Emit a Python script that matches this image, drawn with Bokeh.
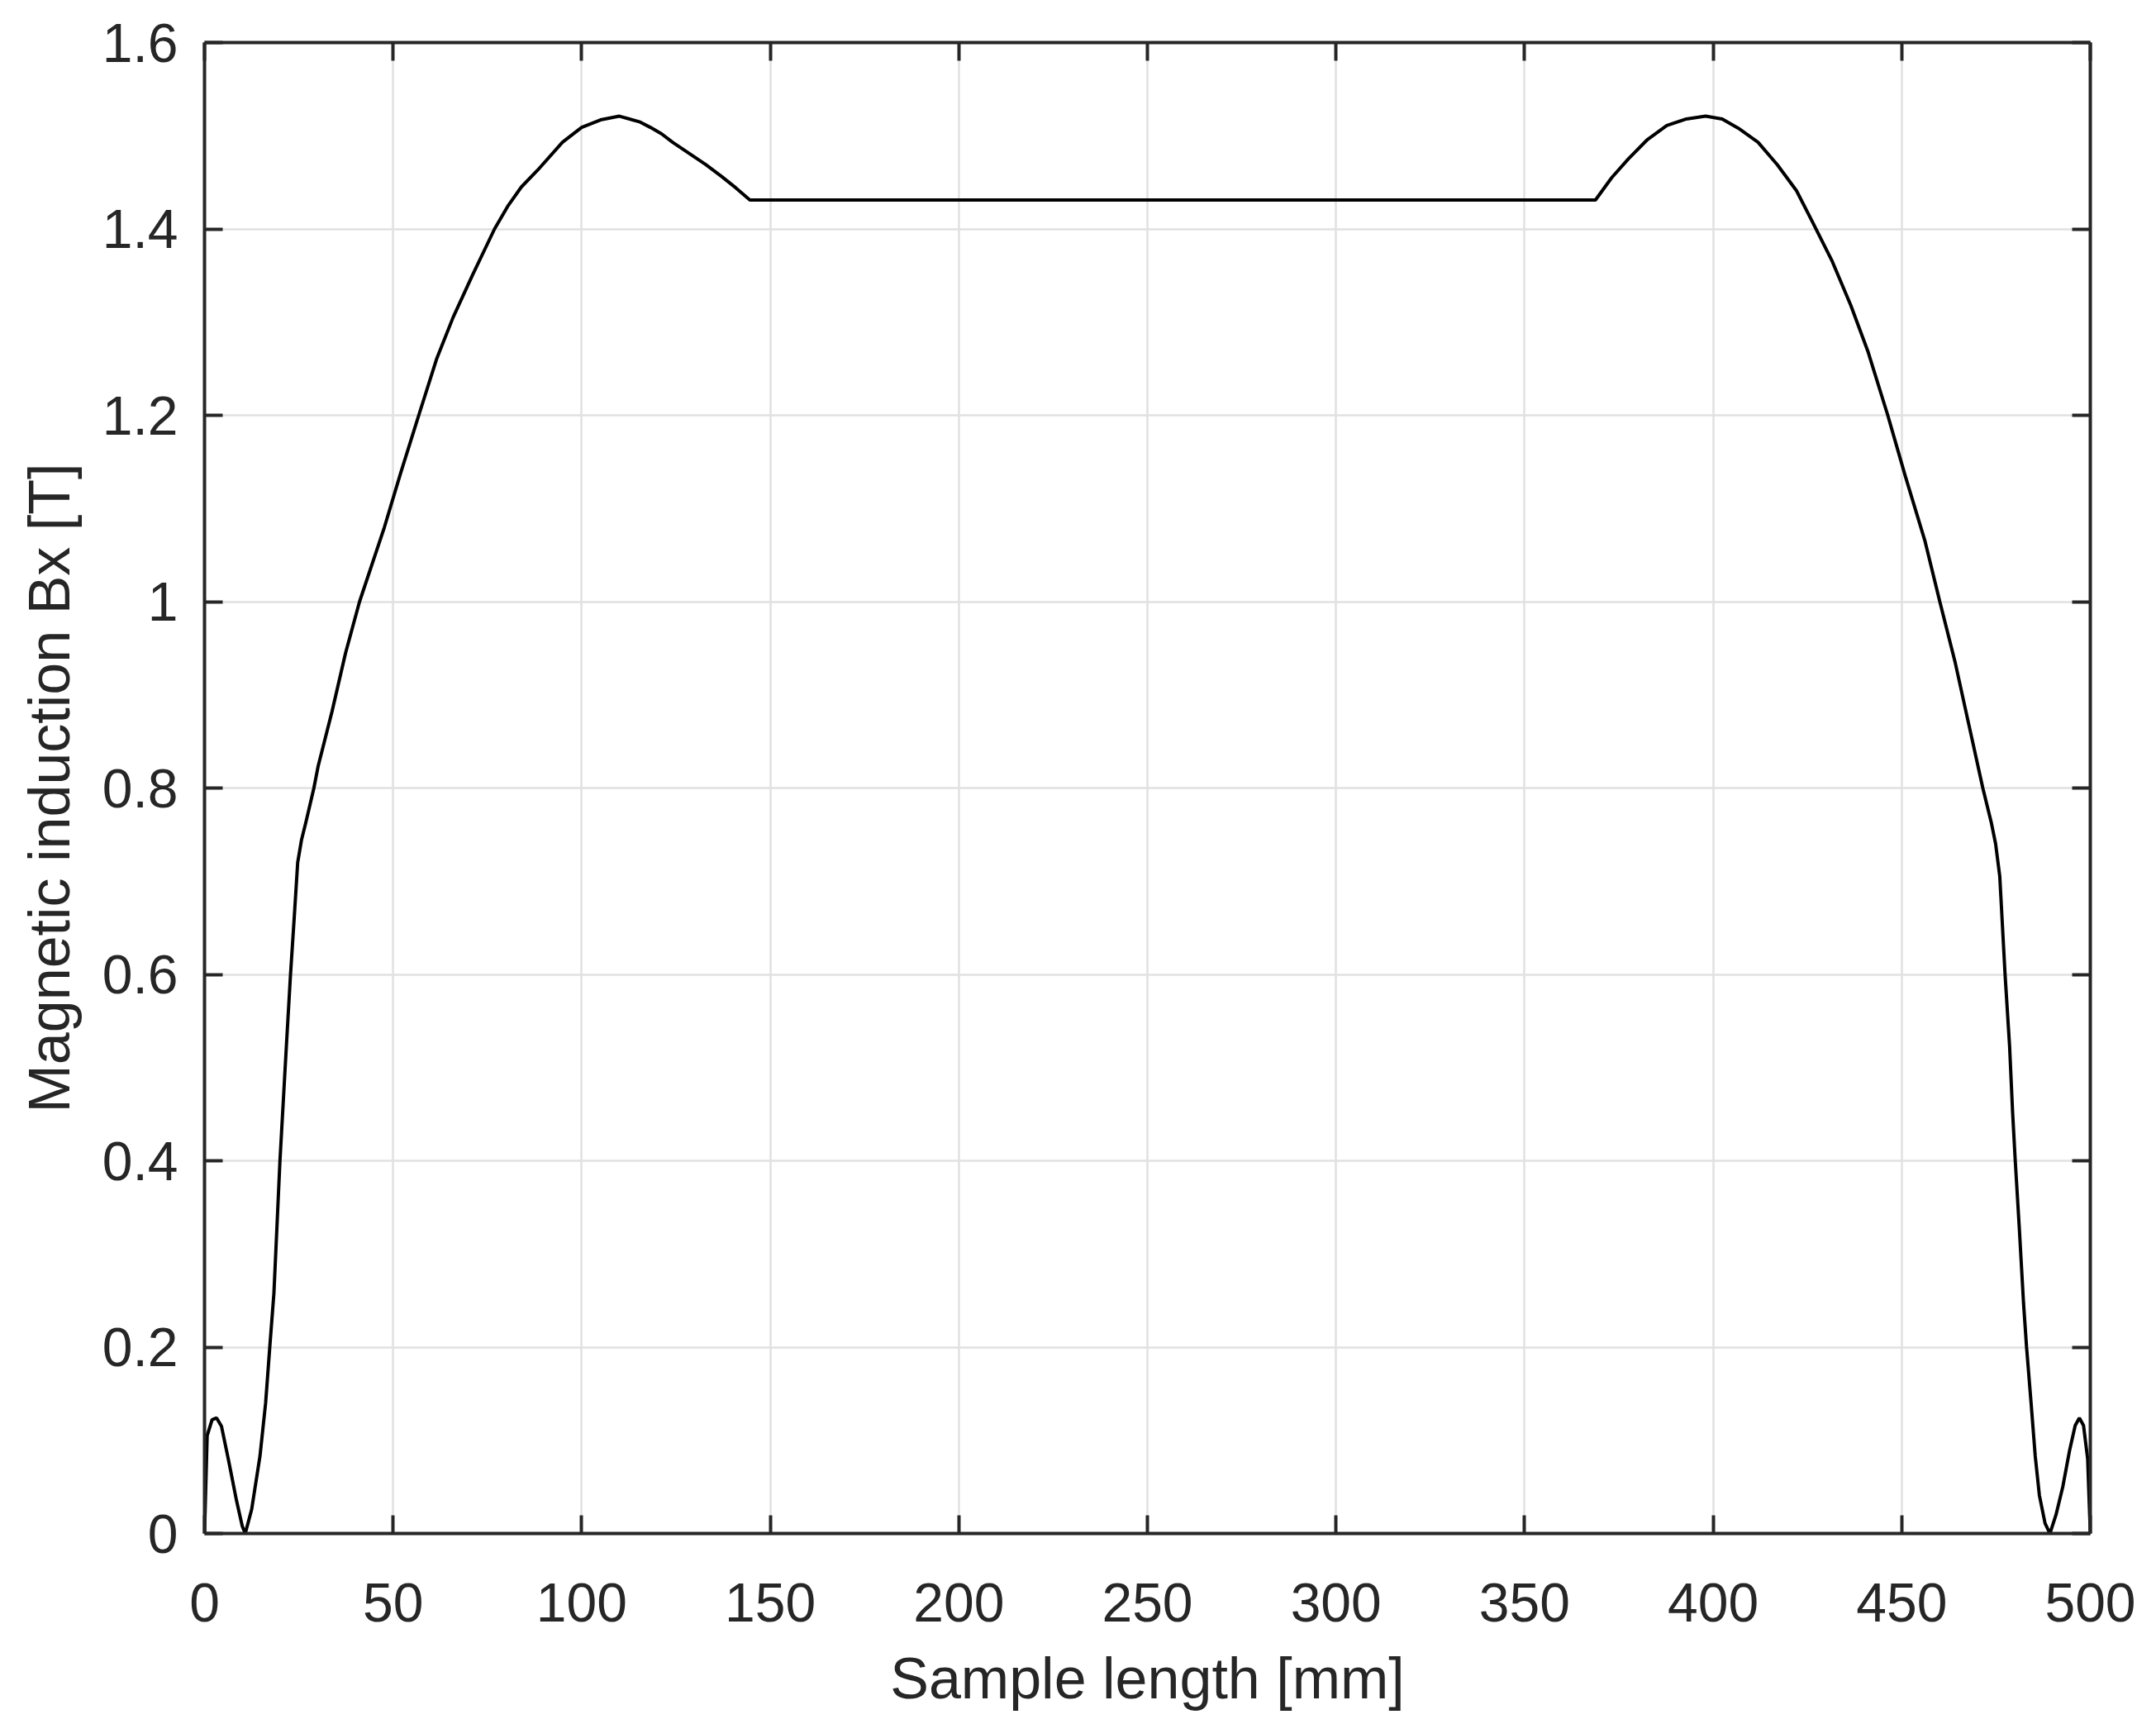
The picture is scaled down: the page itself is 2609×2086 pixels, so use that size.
from bokeh.plotting import figure
from bokeh.models import Range1d, LinearAxis, FixedTicker, ColumnDataSource
from bokeh.embed import file_html
from bokeh.resources import INLINE

# Sample length [mm]
length_mm = [0, 0.7, 2.0, 3.2, 4.5, 6.3, 8.5, 10.0, 10.8, 12.5, 14.7, 16.2, 17.3, 18.4,
             20.0, 21.7, 22.8, 23.8, 24.7, 25.7, 26.8, 29.0, 30.1, 33.8, 37.4, 41.1,
             47.7, 52.0, 56.8, 61.5, 65.9, 71.0, 76.9, 80.5, 84.0, 88.3, 94.9, 100.0,
             105.0, 110.0, 115.3, 118.2, 121.2, 124.1, 128.5, 132.9, 137.2, 140.9, 144.6,
             368.8, 373.1, 377.5, 382.6, 387.7, 392.9, 398.0, 402.4, 406.7, 411.9, 417.0,
             422.1, 426.4, 431.6, 436.5, 441.0, 446.3, 451.0, 456.1, 460.1, 464.1, 467.8,
             471.5, 473.8, 474.9, 476.0, 477.4, 478.6, 479.4, 480.1, 481.2, 482.3, 483.1,
             484.3, 485.4, 486.5, 488.0, 489.3, 490.9, 492.7, 494.5, 496.0, 497.1, 498.2,
             499.3, 500.0]

# Magnetic induction Bx [T]
bx_tesla = [0.0, 0.105, 0.122, 0.124, 0.115, 0.080, 0.035, 0.008, 0.0, 0.026, 0.083, 0.140,
            0.200, 0.258, 0.400, 0.523, 0.600, 0.662, 0.720, 0.744, 0.762, 0.800, 0.823,
            0.882, 0.945, 1.000, 1.080, 1.138, 1.200, 1.260, 1.305, 1.350, 1.400, 1.425,
            1.445, 1.463, 1.493, 1.509, 1.517, 1.521, 1.515, 1.509, 1.502, 1.493, 1.481,
            1.469, 1.456, 1.444, 1.431,
            1.431, 1.455, 1.475, 1.496, 1.511, 1.518, 1.521, 1.518, 1.508, 1.493, 1.469,
            1.441, 1.407, 1.365, 1.318, 1.269, 1.200, 1.134, 1.066, 1.000, 0.936, 0.868,
            0.800, 0.762, 0.740, 0.705, 0.600, 0.523, 0.452, 0.400, 0.326, 0.247, 0.200,
            0.140, 0.083, 0.041, 0.011, 0.0, 0.020, 0.050, 0.089, 0.116, 0.124, 0.116,
            0.080, 0.0]

x_ticks = [0, 50, 100, 150, 200, 250, 300, 350, 400, 450, 500]
x_tick_labels = ["0", "50", "100", "150", "200", "250", "300", "350", "400", "450", "500"]
y_ticks = [0, 0.2, 0.4, 0.6, 0.8, 1.0, 1.2, 1.4, 1.6]
y_tick_labels = ["0", "0.2", "0.4", "0.6", "0.8", "1", "1.2", "1.4", "1.6"]

x_title = "Sample length [mm]"
y_title = "Magnetic induction Bx [T]"

AX = "#262626"
FONT = "Liberation Sans"

src = ColumnDataSource(data=dict(x=length_mm, y=bx_tesla))

p = figure(frame_width=2282, frame_height=1804,
           x_range=Range1d(0, 500), y_range=Range1d(0, 1.6),
           output_backend="svg", toolbar_location=None,
           min_border_left=247, min_border_right=71,
           min_border_top=51, min_border_bottom=223,
           background_fill_color="white", border_fill_color="white")
p.outline_line_color = None

p.line("x", "y", source=src, line_color="black", line_width=4)

p.xaxis.ticker = FixedTicker(ticks=x_ticks)
p.yaxis.ticker = FixedTicker(ticks=y_ticks)
p.xaxis.major_label_overrides = dict(zip(x_ticks, x_tick_labels))
p.yaxis.major_label_overrides = dict(zip(y_ticks, y_tick_labels))
p.xgrid.ticker = FixedTicker(ticks=x_ticks)
p.ygrid.ticker = FixedTicker(ticks=y_ticks)
p.grid.grid_line_color = "#e1e1e1"
p.grid.grid_line_width = 2.5

p.xaxis.axis_label = x_title
p.yaxis.axis_label = y_title


def style(ax, labels=True):
    ax.axis_line_color = AX
    ax.axis_line_width = 4
    ax.major_tick_line_color = AX
    ax.major_tick_line_width = 4
    ax.major_tick_in = 22
    ax.major_tick_out = 0
    ax.minor_tick_line_color = None
    ax.major_label_text_font = FONT
    ax.major_label_text_color = AX
    if labels:
        ax.major_label_text_font_size = "66px"
    else:
        ax.major_label_text_font_size = "0px"
        ax.major_label_standoff = 0
    ax.axis_label_text_font = FONT
    ax.axis_label_text_font_size = "70px"
    ax.axis_label_text_font_style = "normal"
    ax.axis_label_text_color = AX


for ax in p.xaxis:
    style(ax)
    ax.major_label_standoff = 60
    ax.axis_label_standoff = 27
for ax in p.yaxis:
    style(ax)
    ax.major_label_standoff = 32
    ax.axis_label_standoff = 22

top = LinearAxis(ticker=FixedTicker(ticks=x_ticks),
                 major_label_overrides={t: "" for t in x_ticks})
right = LinearAxis(ticker=FixedTicker(ticks=y_ticks),
                   major_label_overrides={t: "" for t in y_ticks})
style(top, labels=False)
style(right, labels=False)
p.add_layout(top, "above")
p.add_layout(right, "right")

open("out.html", "w").write(file_html(p, INLINE))
